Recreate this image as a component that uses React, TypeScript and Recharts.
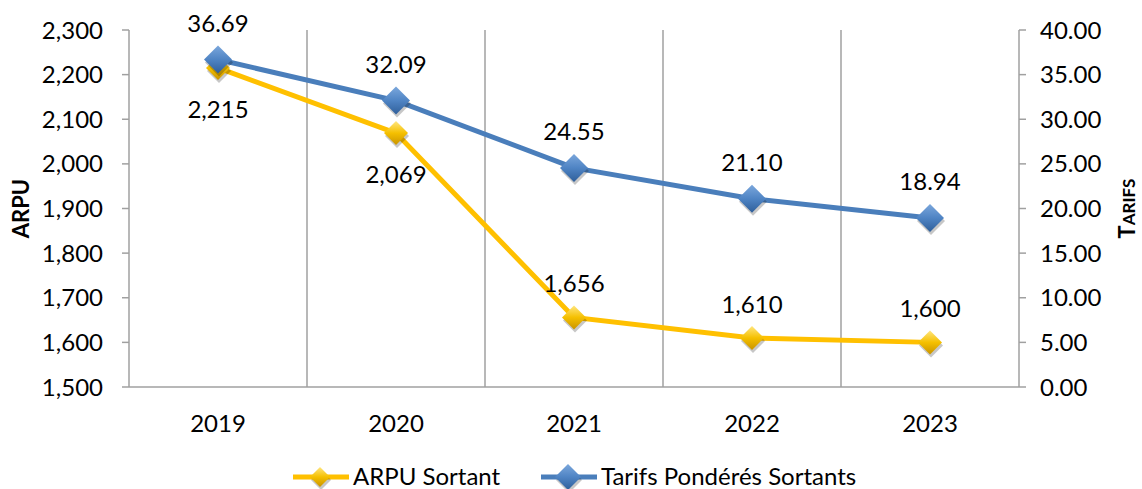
import { LineChart, Line, XAxis, YAxis, CartesianGrid, Legend, LabelList } from "recharts";

const years = ["2019", "2020", "2021", "2022", "2023"];
const arpuSortant = [2215, 2069, 1656, 1610, 1600];
const tarifsPonderes = [36.69, 32.09, 24.55, 21.1, 18.94];
const arpuTicks = [1500, 1600, 1700, 1800, 1900, 2000, 2100, 2200, 2300];
const tarifTicks = [0, 5, 10, 15, 20, 25, 30, 35, 40];

const data = years.map((year, i) => ({
  year,
  arpu: arpuSortant[i],
  tarifs: tarifsPonderes[i],
}));

const FONT = "Lato, 'Open Sans', sans-serif";
const GOLD = "#FFC000";
const BLUE = "#4A7EBB";
const AXIS = "#A0A0A0";
const FS = 24;

function Diamond({ cx, cy, r, fill }: { cx: number; cy: number; r: number; fill: string }) {
  if (cx == null || cy == null) return null;
  const pts = `${cx},${cy - r} ${cx + r},${cy} ${cx},${cy + r} ${cx - r},${cy}`;
  const sh = `${cx + 1},${cy - r + 3} ${cx + r + 1},${cy + 3} ${cx + 1},${cy + r + 3} ${cx - r + 1},${cy + 3}`;
  return (
    <g>
      <polygon points={sh} fill="rgba(0,0,0,0.22)" />
      <polygon points={pts} fill={fill} />
    </g>
  );
}

const fmtArpu = (v: number) => v.toLocaleString("en-US");
const fmtTarif = (v: number) => v.toFixed(2);

function ArpuLabel(props: any) {
  const { x, y, value, index } = props;
  const below = index < 2;
  return (
    <text x={x} y={below ? y + 50 : y - 25} textAnchor="middle" fontSize={FS} fill="#000" fontFamily={FONT}>
      {fmtArpu(value)}
    </text>
  );
}

function TarifLabel(props: any) {
  const { x, y, value } = props;
  return (
    <text x={x} y={y - 28} textAnchor="middle" fontSize={FS} fill="#000" fontFamily={FONT}>
      {fmtTarif(value)}
    </text>
  );
}

function LegendContent() {
  return (
    <svg width={1142} height={47} style={{ display: "block" }}>
      <line x1={293} y1={35} x2={349} y2={35} stroke={GOLD} strokeWidth={5} />
      <Diamond cx={320} cy={35} r={10} fill="url(#goldGrad)" />
      <text x={353} y={43} fontSize={FS} fontFamily={FONT} fill="#000">ARPU Sortant</text>
      <line x1={541} y1={35} x2={597} y2={35} stroke={BLUE} strokeWidth={5} />
      <Diamond cx={568} cy={35} r={13} fill="url(#blueGrad)" />
      <text x={601} y={43} fontSize={FS} fontFamily={FONT} fill="#000">Tarifs Pondérés Sortants</text>
    </svg>
  );
}

export default function App() {
  return (
    <div style={{ position: "absolute", left: 0, top: 0, width: 1142, height: 489, background: "#fff" }}>
      <svg width={0} height={0} style={{ position: "absolute" }}>
        <defs>
          <linearGradient id="goldGrad" x1="0" y1="0" x2="0" y2="1">
            <stop offset="0%" stopColor="#FFE680" />
            <stop offset="50%" stopColor="#F5C000" />
            <stop offset="100%" stopColor="#C99400" />
          </linearGradient>
          <linearGradient id="blueGrad" x1="0" y1="0" x2="0" y2="1">
            <stop offset="0%" stopColor="#7BA7DC" />
            <stop offset="50%" stopColor="#4F84C4" />
            <stop offset="100%" stopColor="#2F5F9A" />
          </linearGradient>
        </defs>
      </svg>
      <LineChart width={1142} height={489} data={data} margin={{ top: 30, right: 0, bottom: 0, left: 0 }}>
        <CartesianGrid
          horizontal={false}
          stroke={AXIS}
          strokeWidth={1.5}
          verticalCoordinatesGenerator={({ offset }: any) =>
            [1, 2, 3, 4].map((i) => offset.left + (i * offset.width) / 5)
          }
        />
        <XAxis
          dataKey="year"
          scale="band"
          height={55}
          stroke={AXIS}
          strokeWidth={1.5}
          tickLine={false}
          tick={{ fontSize: FS, fill: "#000", fontFamily: FONT }}
          tickMargin={22}
        />
        <YAxis
          yAxisId="left"
          width={129}
          domain={[1500, 2300]}
          ticks={arpuTicks}
          tickFormatter={fmtArpu}
          stroke={AXIS}
          strokeWidth={1.5}
          tickSize={7}
          tick={{ fontSize: FS, fill: "#000", fontFamily: FONT }}
          tickMargin={19}
          label={(p: any) => {
            const vb = p.viewBox;
            const cx = 29;
            const cy = vb.y + vb.height / 2;
            return (
              <text
                x={cx}
                y={cy}
                transform={`rotate(-90 ${cx} ${cy})`}
                textAnchor="middle"
                fontFamily={FONT}
                fontWeight={700}
                fontSize={22}
                fill="#000"
              >
                ARPU
              </text>
            );
          }}
        />
        <YAxis
          yAxisId="right"
          orientation="right"
          width={123}
          domain={[0, 40]}
          ticks={tarifTicks}
          tickFormatter={fmtTarif}
          stroke={AXIS}
          strokeWidth={1.5}
          tickSize={7}
          tick={{ fontSize: FS, fill: "#000", fontFamily: FONT, textAnchor: "start" }}
          tickMargin={14}
          label={(p: any) => {
            const vb = p.viewBox;
            const cx = 1135;
            const cy = vb.y + vb.height / 2;
            return (
              <text
                x={cx}
                y={cy}
                transform={`rotate(-90 ${cx} ${cy})`}
                textAnchor="middle"
                fontFamily={FONT}
                fontWeight={700}
                fill="#000"
              >
                <tspan fontSize={22}>T</tspan>
                <tspan fontSize={17}>ARIFS</tspan>
              </text>
            );
          }}
        />
        <Legend verticalAlign="bottom" height={47} content={<LegendContent />} />
        <Line
          yAxisId="left"
          type="linear"
          dataKey="arpu"
          stroke={GOLD}
          strokeWidth={5}
          isAnimationActive={false}
          dot={(p: any) => <Diamond key={p.index} cx={p.cx} cy={p.cy} r={12} fill="url(#goldGrad)" />}
          activeDot={false}
        >
          <LabelList dataKey="arpu" content={<ArpuLabel />} />
        </Line>
        <Line
          yAxisId="right"
          type="linear"
          dataKey="tarifs"
          stroke={BLUE}
          strokeWidth={5}
          isAnimationActive={false}
          dot={(p: any) => <Diamond key={p.index} cx={p.cx} cy={p.cy} r={14} fill="url(#blueGrad)" />}
          activeDot={false}
        >
          <LabelList dataKey="tarifs" content={<TarifLabel />} />
        </Line>
      </LineChart>
    </div>
  );
}
